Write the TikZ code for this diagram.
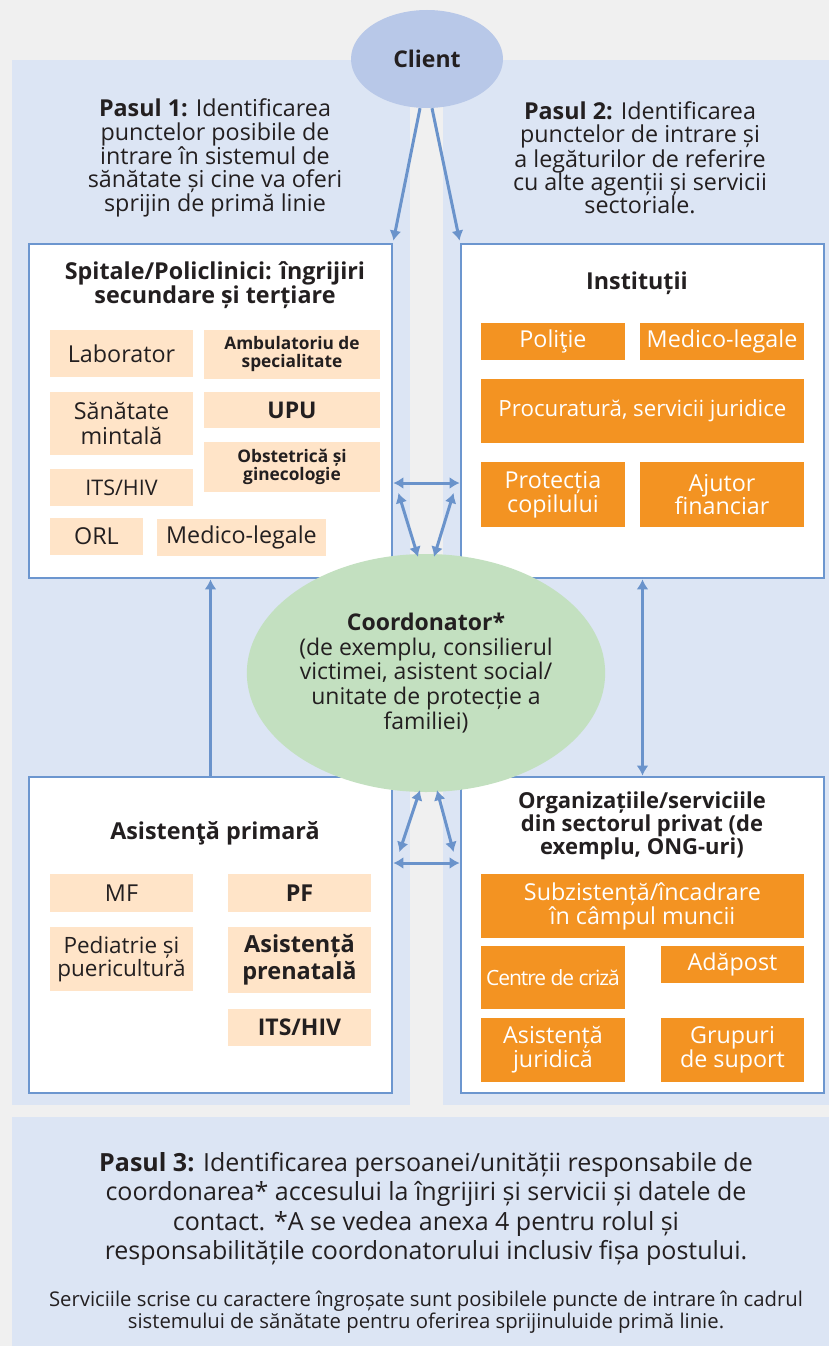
\documentclass[tikz,border=0pt]{standalone}
\usepackage{fontspec}
\setmainfont{Open Sans}
\usepackage{tikz}
\usetikzlibrary{arrows.meta,positioning,shapes.geometric}
\definecolor{Ink}{HTML}{231F20}
\definecolor{Backdrop}{HTML}{F0F0F0}
\definecolor{Band}{HTML}{DCE5F4}
\definecolor{Frame}{HTML}{6C96CF}
\definecolor{Wire}{HTML}{6A93CB}
\definecolor{ClientFill}{HTML}{B8C8E8}
\definecolor{CoordFill}{HTML}{C3E0C0}
\definecolor{Peach}{HTML}{FFE4C8}
\definecolor{Orange}{HTML}{F39322}
\tikzset{
  panel/.style={draw=Frame,line width=2.8pt,fill=white,inner sep=0pt},
  head/.style={font=\bfseries\fontsize{23.3}{24}\selectfont,align=center,text=Ink},
  cell/.style={fill=Peach,text=Ink,align=center,inner sep=0pt,font=\fontsize{23.3}{24.5}\selectfont},
  cellbold/.style={cell,font=\bfseries\fontsize{17.3}{18}\selectfont},
  tag/.style={fill=Orange,text=white,align=center,inner sep=0pt,font=\fontsize{23.3}{23.5}\selectfont},
  steptext/.style={align=center,text=Ink,font=\fontsize{23.3}{23.3}\selectfont},
  link/.style={{Latex[length=10pt,width=12pt]}-{Latex[length=10pt,width=12pt]},line width=3pt,draw=Wire},
  oneway/.style={-{Latex[length=10pt,width=12pt]},line width=3pt,draw=Wire}
}

\begin{document}
\begin{tikzpicture}[x=1pt,y=-1pt]
\useasboundingbox (0,0) rectangle (829,1346);
\fill[Backdrop] (0,0) rectangle (829,1346);
\fill[Band] (12,60) rectangle (829,1105);
\fill[Backdrop] (410,60) rectangle (443,578);
\fill[Backdrop] (410,776) rectangle (443,1105);
\fill[Band] (12,1117) rectangle (829,1346);

\node[ellipse,fill=ClientFill,minimum width=152,minimum height=98,text=Ink,
  font=\bfseries\fontsize{23}{24}\selectfont] (client) at (427,59) {Client};
\node[steptext] (step1) at (215,158) {\textbf{Pasul 1:} Identificarea\\punctelor posibile de\\intrare în sistemul de\\sănătate și cine va oferi\\sprijin de primă linie};
\node[steptext] (step2) at (640,158) {\textbf{Pasul 2:} Identificarea\\punctelor de intrare și\\a legăturilor de referire\\cu alte agenții și servicii\\sectoriale.};

% spitale
\node[panel,minimum width=363,minimum height=334] (hosp) at (210.5,411) {};
\node[head] (hosptitle) at (215,285) {Spitale/Policlinici: îngrijiri\\secundare și terțiare};
\node[cell,minimum width=143,minimum height=47] (lab) at (121.5,353.5) {Laborator};
\node[cellbold,minimum width=176,minimum height=49] (amb) at (292,354.5) {Ambulatoriu de\\specialitate};
\node[cell,minimum width=143,minimum height=63] (ment) at (121.5,423.5) {Sănătate\\mintală};
\node[cellbold,minimum width=176,minimum height=36,font=\bfseries\fontsize{23}{24}\selectfont] (upu) at (292,410) {UPU};
\node[cellbold,minimum width=176,minimum height=50] (obs) at (292,467) {Obstetrică și\\ginecologie};
\node[cell,minimum width=143,minimum height=37,font=\fontsize{21.5}{23}\selectfont] (its) at (121.5,487.5) {ITS/HIV};
\node[cell,minimum width=93,minimum height=37] (orl) at (96.5,536) {ORL};
\node[cell,minimum width=169,minimum height=37] (medh) at (241.5,537.5) {Medico-legale};

% institutii
\node[panel,minimum width=363,minimum height=334] (inst) at (642.5,411) {};
\node[head] (insttitle) at (637,283) {Instituții};
\node[tag,minimum width=144,minimum height=37] (pol) at (553,341.5) {Poliţie};
\node[tag,minimum width=164,minimum height=37] (medi) at (722,341.5) {Medico-legale};
\node[tag,minimum width=323,minimum height=64,font=\fontsize{22.3}{23}\selectfont] (proc) at (642.5,411) {Procuratură, servicii juridice};
\node[tag,minimum width=144,minimum height=65] (prot) at (553,494.5) {Protecția\\copilului};
\node[tag,minimum width=164,minimum height=65] (ajut) at (722,494.5) {Ajutor\\financiar};

% asistenta primara
\node[panel,minimum width=363,minimum height=316] (prim) at (210.5,935) {};
\node[head] (primtitle) at (215,833) {Asistenţă primară};
\node[cell,minimum width=143,minimum height=38] (mf) at (121.5,893) {MF};
\node[cellbold,minimum width=143,minimum height=38,font=\bfseries\fontsize{23.3}{24}\selectfont] (pf) at (299.5,893) {PF};
\node[cell,minimum width=143,minimum height=64,font=\fontsize{22.5}{23}\selectfont] (ped) at (121.5,959) {Pediatrie și\\puericultură};
\node[cellbold,minimum width=143,minimum height=66,font=\bfseries\fontsize{23.5}{27}\selectfont] (pren) at (299.5,960) {Asistență\\prenatală};
\node[cellbold,minimum width=143,minimum height=37,font=\bfseries\fontsize{23}{24}\selectfont] (itsb) at (299.5,1027.5) {ITS/HIV};

% organizatii
\node[panel,minimum width=363,minimum height=316] (org) at (642.5,935) {};
\node[head,font=\bfseries\fontsize{22}{23}\selectfont] (orgtitle) at (642,826) {Organizațiile/serviciile\\din sectorul privat (de\\exemplu, ONG-uri)};
\node[tag,minimum width=323,minimum height=64,font=\fontsize{23.3}{21.7}\selectfont] (sub) at (642.5,906) {Subzistență/încadrare\\în câmpul muncii};
\node[tag,minimum width=144,minimum height=63,font=\fontsize{21}{22}\selectfont\addfontfeature{LetterSpace=-5}] (cri) at (553,977.5) {Centre de criză};
\node[tag,minimum width=143,minimum height=37] (ada) at (732.5,964.5) {Adăpost};
\node[tag,minimum width=144,minimum height=64,font=\fontsize{23.3}{24}\selectfont] (jur) at (553,1050) {Asistență\\juridică};
\node[tag,minimum width=143,minimum height=64,font=\fontsize{23.3}{24}\selectfont] (grp) at (732.5,1050) {Grupuri\\de suport};

\node[ellipse,fill=CoordFill,minimum width=340,minimum height=238,inner sep=0pt,align=center,text=Ink,
  font=\fontsize{23}{24.7}\selectfont] (coord) at (426,673)
  {\textbf{Coordonator*}\\(de exemplu, consilierul\\victimei, asistent social/\\unitate de protecție a\\familiei)};

\draw[oneway] ([xshift=-7pt]client.south) -- ([yshift=2pt]hosp.north east);
\draw[oneway] ([xshift=5pt]client.south) -- ([yshift=2pt]inst.north west);
\draw[link] ([yshift=-72pt]hosp.east) -- ([yshift=-72pt]inst.west);
\draw[link] ([xshift=5pt,yshift=-82pt]hosp.east) -- ([xshift=-8pt,yshift=-3pt]coord.north);
\draw[link] ([xshift=-6pt,yshift=-82pt]inst.west) -- ([xshift=8pt,yshift=-3pt]coord.north);
\draw[link] ([yshift=72pt]prim.east) -- ([yshift=72pt]org.west);
\draw[link] ([xshift=6pt,yshift=83pt]prim.east) -- ([xshift=-6pt,yshift=2pt]coord.south);
\draw[link] ([xshift=-6pt,yshift=83pt]org.west) -- ([xshift=11pt,yshift=2pt]coord.south);
\draw[oneway] (prim.north) -- (hosp.south);
\draw[link] (org.north) -- (inst.south);

\node[steptext,font=\fontsize{25}{29.5}\selectfont] (step3) at (426,1209) {\textbf{Pasul 3:} Identificarea persoanei/unității responsabile de\\coordonarea* accesului la îngrijiri și servicii și datele de\\contact. *A se vedea anexa 4 pentru rolul și\\responsabilitățile coordonatorului inclusiv fișa postului.};
\node[steptext,font=\fontsize{20.3}{19.5}\selectfont] (note) at (426,1312) {Serviciile scrise cu caractere îngroșate sunt posibilele puncte de intrare în cadrul\\sistemului de sănătate pentru oferirea sprijinuluide primă linie.};
\end{tikzpicture}
\end{document}
